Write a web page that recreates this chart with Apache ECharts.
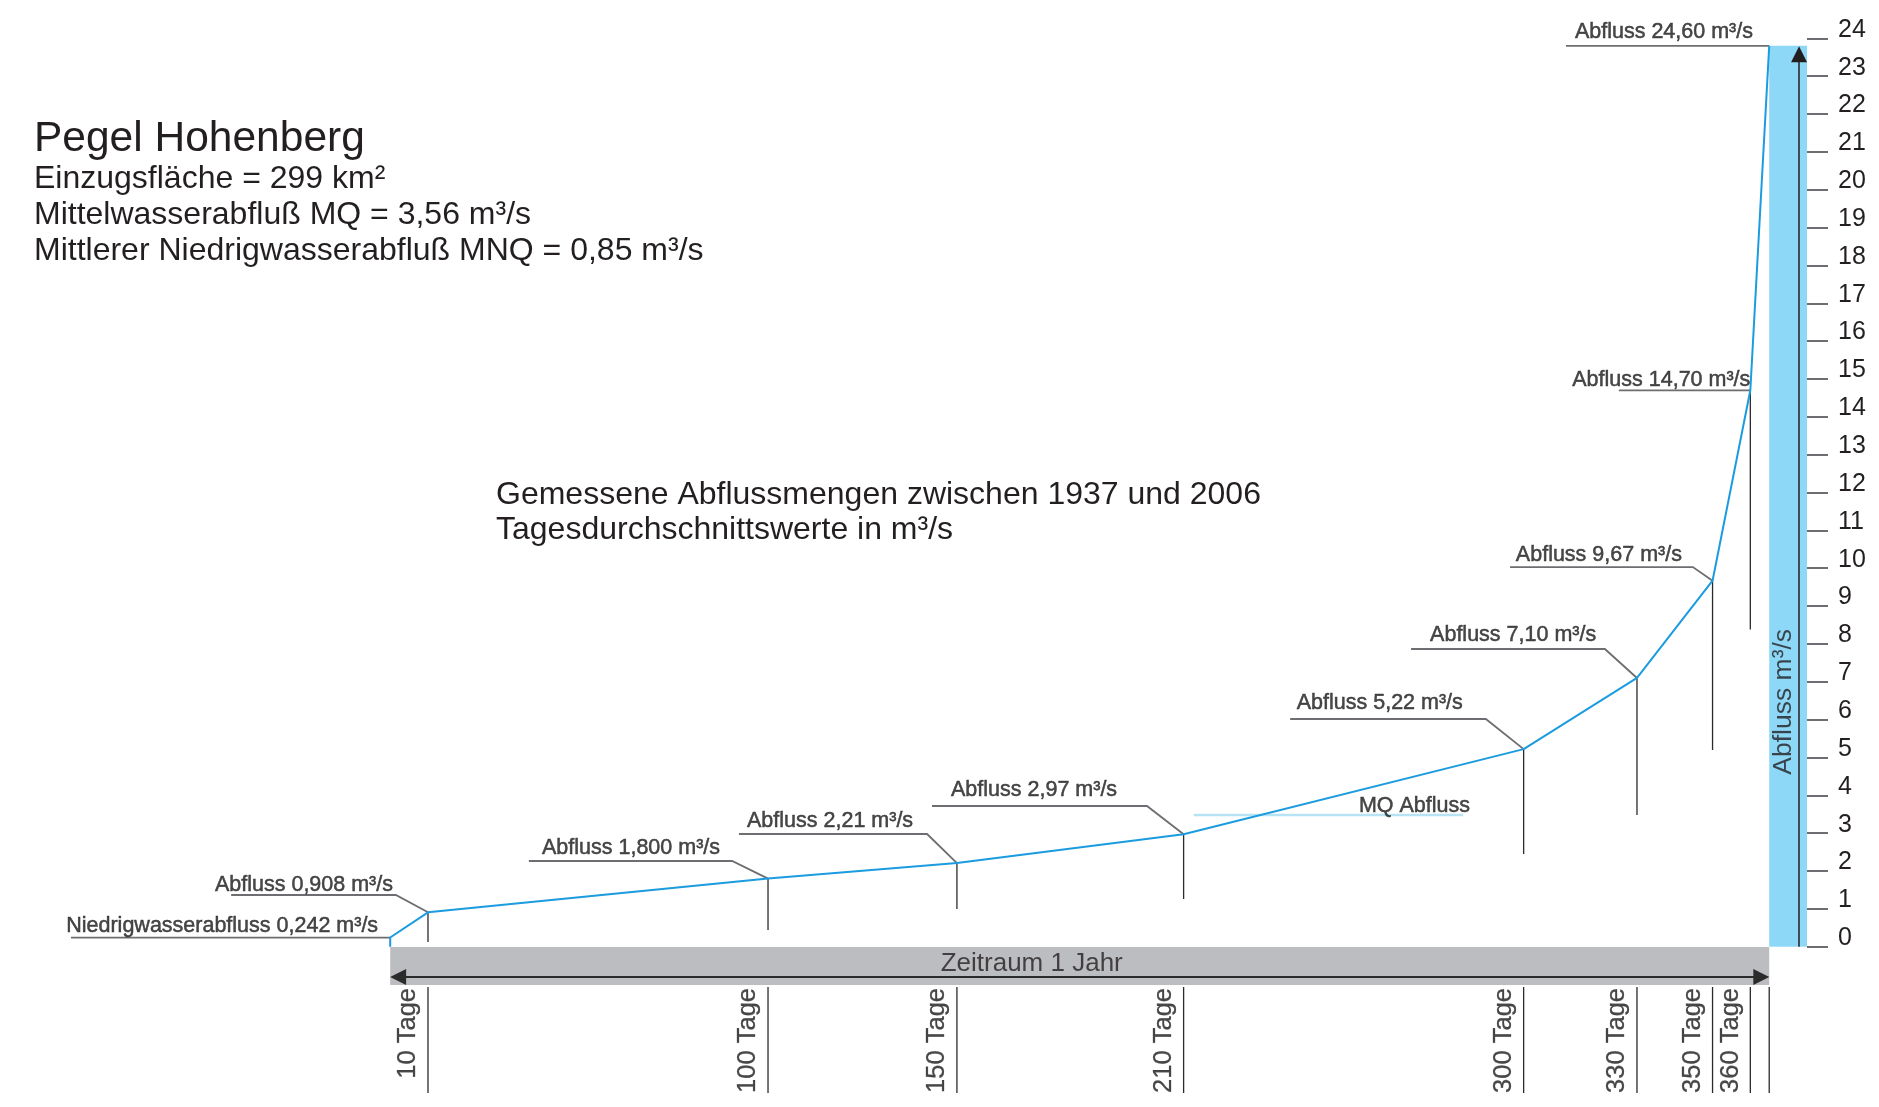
<!DOCTYPE html>
<html>
<head>
<meta charset="utf-8">
<script src="https://cdn.jsdelivr.net/npm/echarts@6/dist/echarts.min.js"></script>
<style>
  html, body { margin: 0; padding: 0; background: #ffffff; }
  #chart { width: 1879px; height: 1107px; }
</style>
</head>
<body>
<div id="chart"></div>
<script>
// ---------------- data ----------------
// duration curve: day of year (exceedance) vs. daily mean discharge (m³/s)
const curveDays  = [0, 0, 10, 100, 150, 210, 300, 330, 350, 360, 365];
const curveFlows = [0, 0.242, 0.908, 1.8, 2.21, 2.97, 5.22, 7.10, 9.67, 14.70, 23.8]; // last point drawn clipped at the bar top
const pointLabels = [
  'Niedrigwasserabfluss 0,242 m³/s', 'Abfluss 0,908 m³/s', 'Abfluss 1,800 m³/s',
  'Abfluss 2,21 m³/s', 'Abfluss 2,97 m³/s', 'Abfluss 5,22 m³/s', 'Abfluss 7,10 m³/s',
  'Abfluss 9,67 m³/s', 'Abfluss 14,70 m³/s', 'Abfluss 24,60 m³/s'
];
const dayTicks = [10, 100, 150, 210, 300, 330, 350, 360];
const dayTickLabels = ['10 Tage', '100 Tage', '150 Tage', '210 Tage', '300 Tage', '330 Tage', '350 Tage', '360 Tage'];
const yearDays = 365;
const mqValue = 3.48;           // MQ line as drawn
const mqSpan = [212.7, 284];    // days covered by MQ line
const yTicks = [0, 24];         // y axis range

// ---------------- annotation layout (in axis units) ----------------
// leader: [underline start day, underline end day, underline level]
const leaders = [
  [-84.5, 0, 0.242], [-42.1, 1.5, 1.366], [36.7, 90.5, 2.264], [92.3, 142.1, 2.978],
  [143.4, 200.3, 3.717], [238.2, 290.0, 6.016], [270.2, 321.5, 7.865], [296.4, 344.8, 10.03],
  [325.2, 360, 14.70], [311.2, 365, 23.8]
];
// label anchor (right end of text, bottom of text box)
const labelAnchors = [
  [-3.2, 0.267], [0.74, 1.35], [87.3, 2.328], [138.4, 3.041], [192.4, 3.86],
  [283.9, 6.158], [319.2, 7.955], [341.9, 10.069], [360.0, 14.692], [360.7, 23.886]
];
// drop lines below the points: level where each ends
const dropEnds = [0.124, 0.441, 0.996, 1.26, 2.45, 3.48, 5.2, 8.38];

const FONT = '"Liberation Sans", Arial, Helvetica, sans-serif';
const TXT = '#231f20';
const TXT2 = '#1a1a1a';

const pts = curveDays.map((d, i) => [d, curveFlows[i]]);
const labelPts = pts.slice(1); // 10 points matching pointLabels

const leaderData = leaders.map((l, i) => {
  const p = labelPts[i];
  const coords = [[l[0], l[2]], [l[1], l[2]]];
  if (l[1] !== p[0] || l[2] !== p[1]) coords.push([p[0], p[1]]);
  return { coords };
});

const dropData = dayTicks.map((d, i) => {
  const idx = curveDays.indexOf(d);
  return { coords: [[d, curveFlows[idx]], [d, dropEnds[i]]] };
});

const bottomLineDays = dayTicks.concat([yearDays]);

const chart = echarts.init(document.getElementById('chart'), null, { renderer: 'canvas' });

const option = {
  animation: false,
  backgroundColor: '#ffffff',
  title: [
    { text: 'Pegel Hohenberg', left: 34, top: 118, padding: 0,
      textStyle: { fontFamily: FONT, fontSize: 42.5, fontWeight: 'normal', color: TXT, lineHeight: 42 } },
    { text: 'Einzugsfläche = 299 km²\nMittelwasserabfluß MQ = 3,56 m³/s\nMittlerer Niedrigwasserabfluß MNQ = 0,85 m³/s',
      left: 34, top: 161, padding: 0,
      textStyle: { fontFamily: FONT, fontSize: 32, fontWeight: 'normal', color: TXT, lineHeight: 36 } },
    { text: 'Gemessene Abflussmengen zwischen 1937 und 2006\nTagesdurchschnittswerte in m³/s',
      left: 496, top: 478, padding: 0,
      textStyle: { fontFamily: FONT, fontSize: 32, fontWeight: 'normal', color: TXT, lineHeight: 35 } }
  ],
  grid: [
    { left: 12.4, right: 72, top: 38.3, bottom: 160.3 },
    { left: 12.4, right: 72, top: 947, bottom: 13 }
  ],
  xAxis: [
    { type: 'value', gridIndex: 0, min: -100, max: 375, show: false },
    { type: 'value', gridIndex: 1, min: -100, max: 375, show: false }
  ],
  yAxis: [
    { type: 'value', gridIndex: 0, min: yTicks[0], max: yTicks[1], interval: 1, position: 'right',
      axisLine: { show: false, onZero: false },
      axisTick: { show: true, length: 21, lineStyle: { color: '#6d6e71', width: 2 } },
      axisLabel: { margin: 31, fontSize: 25, color: TXT, fontFamily: FONT,
        verticalAlign: 'bottom', lineHeight: 17 },
      splitLine: { show: false } },
    { type: 'value', gridIndex: 1, min: 0, max: 147, inverse: true, show: false,
      axisLine: { onZero: false } }
  ],
  series: [
    // blue bar + arrow (y axis band)
    { type: 'line', xAxisIndex: 0, yAxisIndex: 0, data: [], silent: true, z: 1,
      markArea: { silent: true, itemStyle: { color: '#8ed8f7' },
        data: [[{ coord: [yearDays, 0] }, { coord: [375, 23.8] }]] },
      markLine: { silent: true, symbol: ['none', 'triangle'], symbolSize: 16, precision: 5,
        lineStyle: { color: TXT, width: 1.5, type: 'solid' }, label: { show: false },
        data: [[{ coord: [372.9, 0] }, { coord: [372.9, 23.58] }]] } },
    // MQ line
    { type: 'lines', coordinateSystem: 'cartesian2d', xAxisIndex: 0, yAxisIndex: 0, polyline: true, silent: true, z: 2,
      lineStyle: { color: '#b6e4f4', width: 2.5, opacity: 1 },
      data: [{ coords: [[mqSpan[0], mqValue], [mqSpan[1], mqValue]] }] },
    // drop lines
    { type: 'lines', coordinateSystem: 'cartesian2d', xAxisIndex: 0, yAxisIndex: 0, polyline: true, silent: true, z: 3,
      lineStyle: { color: '#2b2b2b', width: 1.3, opacity: 1 }, data: dropData },
    // leader lines
    { type: 'lines', coordinateSystem: 'cartesian2d', xAxisIndex: 0, yAxisIndex: 0, polyline: true, silent: true, z: 3,
      lineStyle: { color: '#6d6e71', width: 1.8, opacity: 1 }, data: leaderData },
    // the duration curve
    { type: 'line', xAxisIndex: 0, yAxisIndex: 0, data: pts, symbol: 'none', silent: true, z: 4,
      lineStyle: { color: '#1b9be0', width: 2 } },
    // text labels in main grid
    { type: 'scatter', xAxisIndex: 0, yAxisIndex: 0, symbolSize: 1, silent: true, z: 5,
      itemStyle: { color: 'transparent' },
      label: { show: true, position: 'inside', align: 'right', verticalAlign: 'bottom', formatter: '{b}',
        fontSize: 21.5, color: TXT2, fontFamily: FONT, textBorderColor: TXT2, textBorderWidth: 0.5 },
      labelLayout: { hideOverlap: false },
      data: pointLabels.map((t, i) => ({ name: t, value: labelAnchors[i] }))
        .concat([
          { name: 'MQ Abfluss', value: [285.8, 3.437] },
          { name: 'Abfluss m³/s', value: [368.9, 6.47],
            label: { rotate: 90, align: 'center', verticalAlign: 'middle', fontSize: 26.5, color: TXT,
              textBorderWidth: 0 } }
        ]) },
    // bottom band "Zeitraum 1 Jahr" with double arrow
    { type: 'line', xAxisIndex: 1, yAxisIndex: 1, data: [], silent: true, z: 1,
      markArea: { silent: true, itemStyle: { color: '#bcbdc0' },
        data: [[{ coord: [0, 0] }, { coord: [yearDays, 38] }]] },
      markLine: { silent: true, symbol: ['triangle', 'triangle'], symbolSize: 16, precision: 5,
        lineStyle: { color: '#2b2b2b', width: 2, type: 'solid' }, label: { show: false },
        data: [[{ coord: [2.1, 30] }, { coord: [362.9, 30] }]] } },
    // bottom vertical lines
    { type: 'lines', coordinateSystem: 'cartesian2d', xAxisIndex: 1, yAxisIndex: 1, polyline: true, silent: true, z: 3,
      lineStyle: { color: '#2b2b2b', width: 1.3, opacity: 1 },
      data: bottomLineDays.map(d => ({ coords: [[d, 40], [d, 146]] })) },
    // bottom labels
    { type: 'scatter', xAxisIndex: 1, yAxisIndex: 1, symbolSize: 1, silent: true, z: 5,
      itemStyle: { color: 'transparent' },
      label: { show: true, position: 'inside', rotate: 90, align: 'right', verticalAlign: 'bottom', formatter: '{b}',
        fontSize: 25.5, color: TXT2, fontFamily: FONT, textBorderColor: TXT2, textBorderWidth: 0.3 },
      labelLayout: { hideOverlap: false },
      data: dayTicks.map((d, i) => ({ name: dayTickLabels[i], value: [d - 1.8, 41] }))
        .concat([{ name: 'Zeitraum 1 Jahr', value: [169.8, 17],
          label: { rotate: 0, align: 'center', verticalAlign: 'middle', fontSize: 26, color: TXT,
            textBorderWidth: 0 } }]) }
  ]
};
chart.setOption(option);
</script>
</body>
</html>
